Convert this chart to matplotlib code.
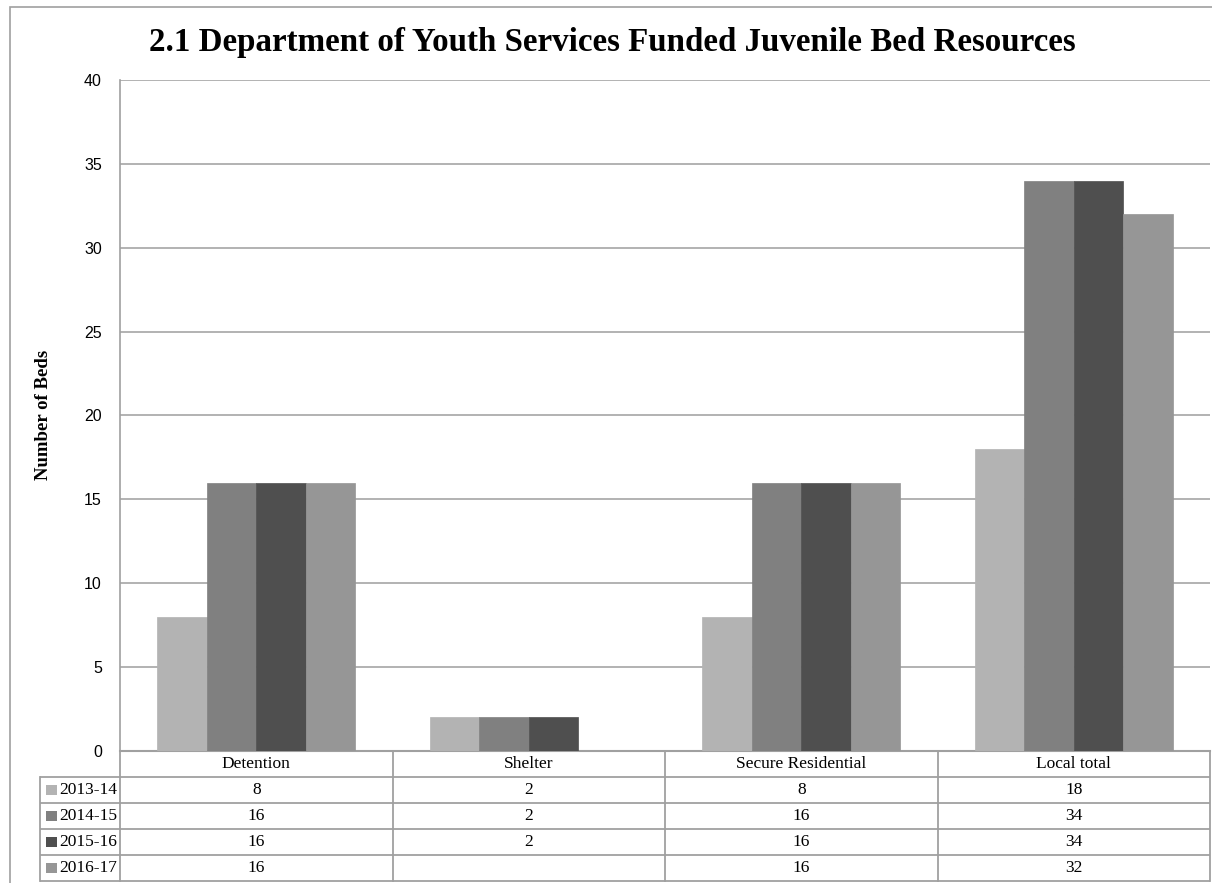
import matplotlib
matplotlib.use("Agg")
import matplotlib.pyplot as plt
from matplotlib.patches import Rectangle
import numpy as np

categories = ["Detention", "Shelter", "Secure Residential", "Local total"]
series_names = ["2013-14", "2014-15", "2015-16", "2016-17"]
v_2013_14 = [8, 2, 8, 18]
v_2014_15 = [16, 2, 16, 34]
v_2015_16 = [16, 2, 16, 34]
v_2016_17 = [16, None, 16, 32]
series_values = [v_2013_14, v_2014_15, v_2015_16, v_2016_17]
colors = ["#b3b3b3", "#808080", "#4f4f4f", "#969696"]
yticks = [0, 5, 10, 15, 20, 25, 30, 35, 40]

W, H = 1212, 883
fig = plt.figure(figsize=(W / 100, H / 100), dpi=100)

def px_rect(x0, y0, x1, y1):
    return [x0 / W, 1 - y1 / H, (x1 - x0) / W, (y1 - y0) / H]

serif = ["Liberation Serif", "DejaVu Serif"]
sans = ["Liberation Sans", "DejaVu Sans"]
grid_col = "#a6a6a6"
line_col = "#a0a0a0"

# outer border
fig.patches.append(Rectangle((10 / W, -0.01), 1.02, 1 - 7 / H + 0.01,
                             transform=fig.transFigure, fill=False,
                             edgecolor="#a0a0a0", linewidth=1.2))

# main plot
ax = fig.add_axes(px_rect(120, 80, 1210, 751))
n_cat = len(categories)
x = np.arange(n_cat)
bw = 0.182
for i, (vals, c) in enumerate(zip(series_values, colors)):
    xs = [xi + (i - 1.5) * bw for xi, v in zip(x, vals) if v is not None]
    ys = [v for v in vals if v is not None]
    ax.bar(xs, ys, width=bw, color=c, edgecolor=c, linewidth=0.5, zorder=3)
ax.set_xlim(-0.5, n_cat - 0.5)
ax.set_ylim(0, 40)
ax.set_yticks(yticks)
ax.set_yticklabels([str(t) for t in yticks], fontfamily=sans, fontsize=11.5)
ax.tick_params(axis="y", length=0, pad=13)
ax.set_xticks([])
ax.grid(axis="y", color=grid_col, linewidth=1.2, zorder=0)
for s in ["top", "right"]:
    ax.spines[s].set_visible(False)
ax.spines["left"].set_color(line_col)
ax.spines["left"].set_linewidth(1.2)
ax.spines["bottom"].set_color(line_col)
ax.spines["bottom"].set_linewidth(1.5)

fig.text(44 / W, 1 - 415 / H, "Number of Beds", rotation=90, ha="center",
         va="center", fontfamily=serif, fontweight="bold", fontsize=13.5)
fig.text(612 / W, 1 - 43 / H,
         "2.1 Department of Youth Services Funded Juvenile Bed Resources",
         ha="center", va="center", fontfamily=serif, fontweight="bold",
         fontsize=23.8)

# data table
tx0 = 40
lab_w = (120 - tx0) / ((1210 - 120) / n_cat)
unit_px = (1210 - 120) / n_cat
tab = fig.add_axes(px_rect(tx0, 751, 1210, 881))
tab.set_xlim(-0.5 - lab_w, n_cat - 0.5)
tab.set_ylim(len(series_names) + 1, 0)
tab.axis("off")
lw = 1.3
for r in range(1, len(series_names) + 2):
    tab.plot([-0.5 - lab_w, n_cat - 0.5], [r, r], color=line_col, lw=lw,
             solid_capstyle="butt", clip_on=False)
tab.plot([-0.5 - lab_w] * 2, [1, len(series_names) + 1], color=line_col,
         lw=lw, clip_on=False)
for k in range(n_cat + 1):
    tab.plot([k - 0.5] * 2, [0, len(series_names) + 1], color=line_col,
             lw=lw, clip_on=False)
for k, cat in enumerate(categories):
    tab.text(k, 0.5, cat, ha="center", va="center", fontfamily=serif,
             fontsize=12.5)
sq = 11 / unit_px
for r, (name, vals, c) in enumerate(zip(series_names, series_values, colors)):
    yc = r + 1.5
    tab.add_patch(Rectangle((-0.5 - lab_w + 6 / unit_px, yc - 0.2), sq, 0.4,
                            facecolor=c, edgecolor="none"))
    tab.text(-0.5 - lab_w + 19 / unit_px, yc, name, ha="left", va="center",
             fontfamily=serif, fontsize=12.5)
    for k, v in enumerate(vals):
        if v is not None:
            tab.text(k, yc, str(v), ha="center", va="center",
                     fontfamily=serif, fontsize=12.5)

fig.savefig("out.png", dpi=100)
